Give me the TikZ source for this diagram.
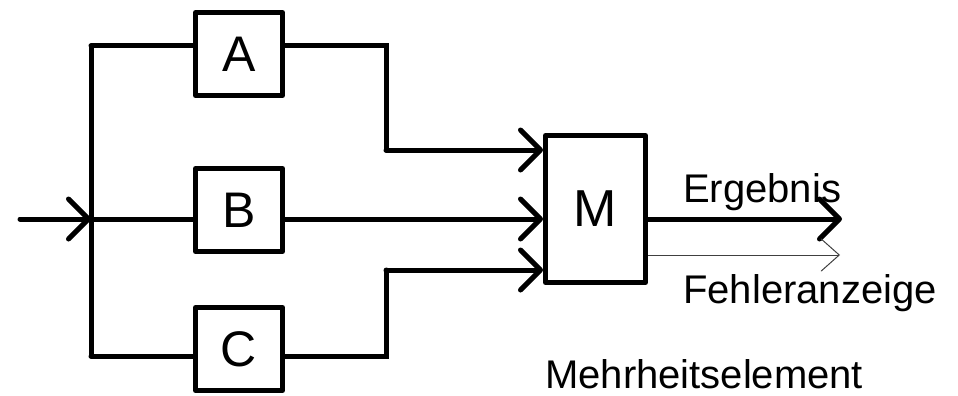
\documentclass[tikz,border=0pt]{standalone}
\usepackage{fontspec}
\setmainfont{Liberation Sans}
\usetikzlibrary{arrows.meta}
\begin{document}
\begin{tikzpicture}[x=1pt,y=-1pt,
 blk/.style={draw, line width=5pt, line join=round, minimum width=87pt, minimum height=83pt, inner sep=0pt, font=\fontsize{50}{60}\selectfont},
 wire/.style={line width=5pt, line cap=round, line join=miter},
 barb/.style={-{Straight Barb[length=20pt,width=40pt,line cap=round,line join=round]}},
 arr/.style={wire, barb},
 thinarr/.style={line width=1pt, draw=black!75, -{Straight Barb[length=18pt,width=32pt,line cap=round]}},
 lbl/.style={anchor=base west, inner sep=0pt, font=\fontsize{40}{48}\selectfont}]
\useasboundingbox (0,0) rectangle (958,396);
% blocks
\node[blk] (A) at (239,54) {A};
\node[blk] (B) at (239,210) {B};
\node[blk] (C) at (239,349) {C};
\node[blk, minimum width=100pt, minimum height=147pt, font=\fontsize{52}{62}\selectfont] (M) at (595.5,209) {M};
% coordinates
\coordinate (in) at (20,219);
\coordinate (j) at (91,219);
\coordinate (ja) at (91,46);
\coordinate (jc) at (91,356);
\coordinate (ra) at (386,46);
\coordinate (rab) at (386,150);
\coordinate (rc) at (386,356);
\coordinate (rct) at (386,270);
\coordinate (outE) at (842,219);
\coordinate (outF) at (840,255);
% input
\draw[arr] (in) -- (j);
\draw[wire] (ja) -- (jc);
\draw[wire] (ja) -- (ja -| A.west);
\draw[wire] (j) -- (j -| B.west);
\draw[wire] (jc) -- (jc -| C.west);
% to M
\draw[wire] (ra -| A.east) -- (ra) -- (rab);
\draw[arr] (rab) -- (rab -| M.west);
\draw[arr] (j -| B.east) -- (j -| M.west);
\draw[wire] (rc -| C.east) -- (rc) -- (rct);
\draw[arr] (rct) -- (rct -| M.west);
% outputs
\draw[arr] (outE -| M.east) -- (outE);
\draw[thinarr] (outF -| M.east) -- (outF);
% labels
\node[lbl] (erg) at (683,202) {Ergebnis};
\node[lbl] (feh) at (683,303) {Fehleranzeige};
\node[lbl] (meh) at (545,388) {Mehrheitselement};
\end{tikzpicture}
\end{document}
